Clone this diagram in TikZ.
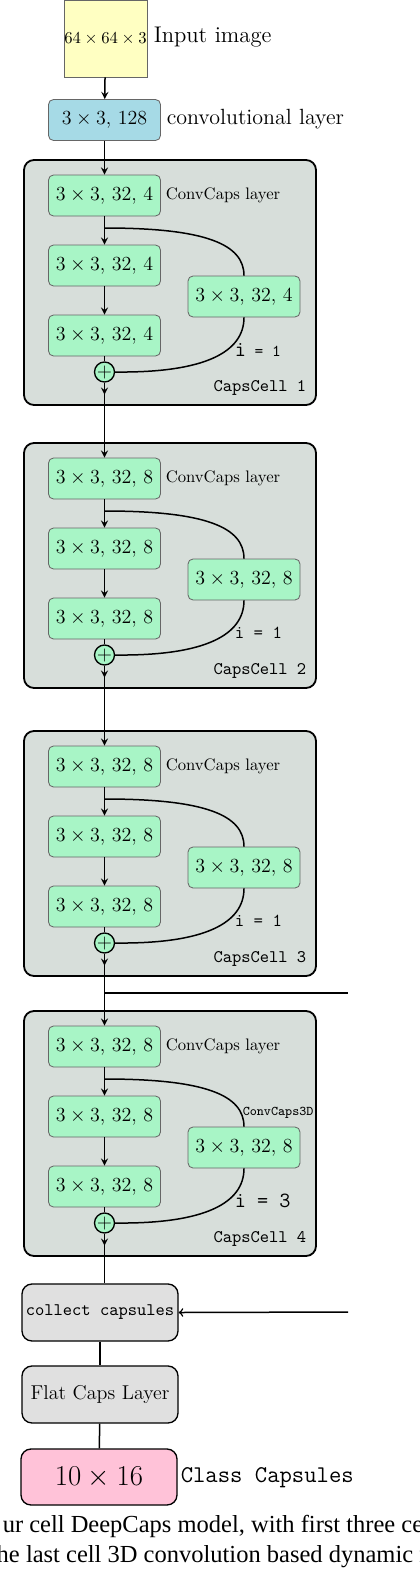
\documentclass[tikz,border=0pt]{standalone}
\usepackage{amsmath}
\usepackage{fontspec}
\newfontfamily\capfont{Liberation Serif}
\usepackage{tikz}

\definecolor{inyellow}{RGB}{255,255,194}
\definecolor{convblue}{RGB}{166,218,230}
\definecolor{capsgreen}{RGB}{168,245,198}
\definecolor{cellgray}{RGB}{215,222,218}
\definecolor{boxgray}{RGB}{224,224,224}
\definecolor{classpink}{RGB}{255,194,216}

\begin{document}
\begin{tikzpicture}[x=0.6pt, y=-0.6pt, >=stealth, line width=0.9pt,
		layerbox/.style={draw=black!60, line width=0.5pt, rounded corners=3pt, minimum width=67.2pt, minimum height=24.6pt, inner sep=1pt, font=\large},
		capsbox/.style={layerbox, fill=capsgreen},
		cellbox/.style={draw=black, line width=1.1pt, fill=cellgray, rounded corners=6pt, minimum width=175.2pt, minimum height=147pt},
		sumnode/.style={circle, draw=black, line width=0.8pt, fill=capsgreen, minimum size=12pt, inner sep=0pt, font=\large},
		outbox/.style={draw=black, line width=0.8pt, rounded corners=6pt, minimum width=93.6pt, minimum height=34.2pt, inner sep=1pt},
		note/.style={anchor=west, inner sep=0pt}]
		\useasboundingbox (0,0) rectangle (420,1574);
		\clip (0,0) rectangle (420,1574);
		
		% input and first convolution
		\node[draw=black!60, line width=0.5pt, fill=inyellow, minimum width=49.8pt, minimum height=46.2pt, inner sep=0pt] (input) at (105.5,38.5) {$64\times64\times3$};
		\node[note, font=\fontsize{13.6}{16}\selectfont] (inlabel) at (153,37) {Input image};
		\node[layerbox, fill=convblue] (conv) at (104.5,120) {$3\times3$, 128};
		\node[note, font=\fontsize{13.2}{16}\selectfont] (convlabel) at (166,119) {convolutional layer};
		\draw[->] (input) -- (conv);
		
		% the four caps cells
		\foreach \n/\t/\d/\il in {1/160/4/{{\fontsize{13}{15}\selectfont i} = 1}, 2/443/8/{\fontsize{11}{13}\selectfont i = 1}, 3/731/8/{\fontsize{11}{13}\selectfont i = 1}, 4/1011/8/{\fontsize{13}{15}\selectfont i = 3}} {
			\node[cellbox] (cell\n) at (170,\t+122.5) {};
			\node[capsbox] (top\n) at (104.5,\t+35.5) {$3\times3$, 32, \d};
			\node[capsbox] (mid\n) at (104.5,\t+105.5) {$3\times3$, 32, \d};
			\node[capsbox] (low\n) at (104.5,\t+175.5) {$3\times3$, 32, \d};
			\node[capsbox] (side\n) at (244,\t+136.5) {$3\times3$, 32, \d};
			\node[sumnode] (sum\n) at (104.5,\t+212) {$+$};
			\node[note] (toplabel\n) at (165,\t+35) {ConvCaps layer};
			\node[note, font=\ttfamily] (iter\n) at (234,\t+190) {\il};
			\node[anchor=east, inner sep=0pt, font=\fontsize{10.6}{13}\selectfont\ttfamily] (name\n) at (307,\t+228) {CapsCell \n};
			\ifnum\n=4
				\node[note, font=\footnotesize\ttfamily] (kind\n) at (242,\t+102) {ConvCaps3D};
			\fi
			\coordinate (split\n) at (104.5,\t+68);
			\draw[->] (top\n) -- (mid\n);
			\draw[->] (mid\n) -- (low\n);
			\draw (low\n) -- (sum\n);
			\draw[->] (sum\n.south) -- ++(0,12);
			\draw (split\n) .. controls (205,\t+68) and (244,\t+84) .. (side\n.north);
			\draw (side\n.south) .. controls (244,\t+192) and (205,\t+213) .. (sum\n.east);
		}
		\draw[->] (conv) -- (top1);
		\foreach \m/\n in {1/2,2/3,3/4}
			\draw[->] (sum\m) -- (top\n);
		
		% capsules taken out after cell 3
		\coordinate (tap) at (104.5,993);
		\coordinate (tapend) at (348,993);
		\draw (tap) -- (tapend);
		
		% output part
		\node[outbox, fill=boxgray, font=\fontsize{10.6}{13}\selectfont\ttfamily] (collect) at (100,1312.5) {collect capsules};
		\node[outbox, fill=boxgray, font=\large] (flat) at (100,1394.5) {Flat Caps Layer};
		\node[outbox, fill=classpink, minimum height=33.6pt, font=\LARGE] (class) at (99,1477) {$10\times16$};
		\node[note, font=\Large\ttfamily] (classlabel) at (180,1478) {Class Capsules};
		\draw (sum4) -- (collect.north -| sum4);
		\draw (collect) -- (flat);
		\draw (flat) -- (class);
		\coordinate (feed) at (348,1312);
		\draw[-to] (feed) -- (collect.east);
		
		% caption, cut at both sides
		\node[anchor=base west, inner sep=0pt, font={\capfont\fontsize{14.7}{18}\selectfont}] (cap1) at (2,1532) {ur cell DeepCaps model, with first three ce};
		\node[anchor=base west, inner sep=0pt, font={\capfont\fontsize{14.7}{18}\selectfont}] (cap2) at (-4,1562) {he last cell 3D convolution based dynamic r};
	\end{tikzpicture}
\end{document}
